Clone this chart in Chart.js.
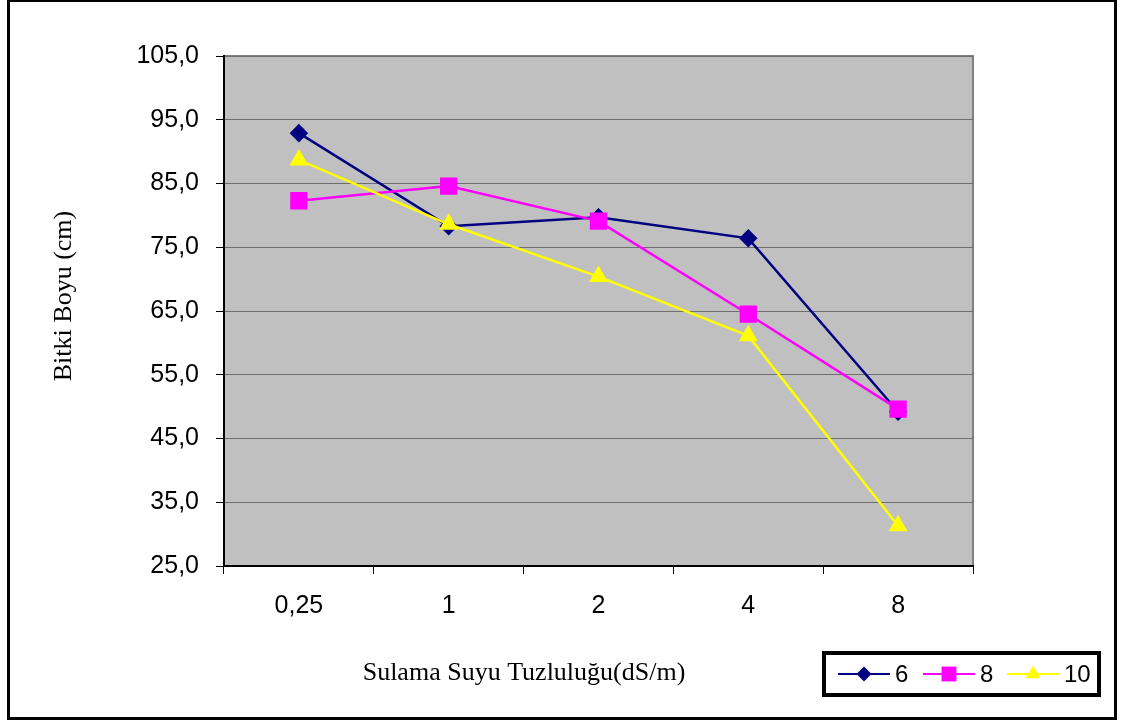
<!DOCTYPE html>
<html>
<head>
<meta charset="utf-8">
<script src="https://cdn.jsdelivr.net/npm/chart.js@4"></script>
<style>
  body { margin: 0; background: #fff; }
</style>
</head>
<body>
<canvas id="boyChart" width="1123" height="722"></canvas>
<script>
// salinity levels on the x axis
const salinity = ["0,25", "1", "2", "4", "8"];

// plant height (cm) per series
const series6 = [92.9, 78.3, 79.7, 76.4, 49.2];
const series8 = [82.3, 84.6, 79.1, 64.5, 49.6];
const series10 = [88.7, 78.6, 70.4, 61.1, 31.3];

const seriesNames = ["6", "8", "10"];

const yMin = 25;
const yMax = 105;
const yStep = 10;

const serif = "'Liberation Serif', 'Times New Roman', serif";
const sans = "'Liberation Sans', Arial, sans-serif";

// gray plot background, outer frame and the axis titles
const backdrop = {
  id: "backdrop",
  beforeDraw(chart) {
    const { ctx, chartArea: a } = chart;
    ctx.save();
    ctx.strokeStyle = "#000";
    ctx.lineWidth = 3;
    ctx.strokeRect(8.5, 0.5, 1107, 718);
    ctx.fillStyle = "#c0c0c0";
    ctx.fillRect(a.left, a.top, a.right - a.left, a.bottom - a.top);
    ctx.strokeStyle = "#808080";
    ctx.lineWidth = 2;
    ctx.strokeRect(a.left, a.top, a.right - a.left, a.bottom - a.top);
    ctx.restore();
  },
  afterDraw(chart) {
    const ctx = chart.ctx;
    ctx.save();
    ctx.fillStyle = "#000";
    ctx.font = "26px " + serif;
    ctx.textAlign = "center";
    ctx.textBaseline = "middle";
    ctx.fillText("Sulama Suyu Tuzluluğu(dS/m)", 524, 673);
    ctx.translate(64, 296);
    ctx.rotate(-Math.PI / 2);
    ctx.fillText("Bitki Boyu (cm)", 0, 0);
    ctx.restore();
  }
};

// boxed legend, line with marker then the label
const boxLegend = {
  id: "boxLegend",
  afterDraw(chart) {
    const ctx = chart.ctx;
    ctx.save();
    ctx.fillStyle = "#fff";
    ctx.fillRect(822, 651, 279, 46);
    ctx.strokeStyle = "#000";
    ctx.lineWidth = 4;
    ctx.strokeRect(824, 653, 275, 42);
    const starts = [838, 923, 1007];
    const y = 674;
    chart.data.datasets.forEach((ds, i) => {
      const x = starts[i];
      ctx.strokeStyle = ds.borderColor;
      ctx.lineWidth = 2;
      ctx.beginPath();
      ctx.moveTo(x, y);
      ctx.lineTo(x + 52, y);
      ctx.stroke();
      ctx.fillStyle = ds.pointBackgroundColor;
      Chart.helpers.drawPoint(ctx, {
        pointStyle: ds.pointStyle,
        radius: ds.pointRadius,
        rotation: 0,
        borderWidth: 0
      }, x + 26, y);
      ctx.fillStyle = "#000";
      ctx.font = "24px " + sans;
      ctx.textAlign = "left";
      ctx.textBaseline = "middle";
      ctx.fillText(ds.label, x + 57, y + 1);
    });
    ctx.restore();
  }
};

new Chart(document.getElementById("boyChart"), {
  type: "line",
  data: {
    labels: salinity,
    datasets: [
      {
        label: seriesNames[0],
        data: series6,
        order: 3,
        borderColor: "#000080",
        backgroundColor: "#000080",
        pointBackgroundColor: "#000080",
        pointBorderColor: "#000080",
        pointStyle: "rectRot",
        pointRadius: 7.5,
        borderWidth: 2.5
      },
      {
        label: seriesNames[1],
        data: series8,
        order: 2,
        borderColor: "#ff00ff",
        backgroundColor: "#ff00ff",
        pointBackgroundColor: "#ff00ff",
        pointBorderColor: "#ff00ff",
        pointStyle: "rect",
        pointRadius: 10.5,
        borderWidth: 2.5
      },
      {
        label: seriesNames[2],
        data: series10,
        order: 1,
        borderColor: "#ffff00",
        backgroundColor: "#ffff00",
        pointBackgroundColor: "#ffff00",
        pointBorderColor: "#ffff00",
        pointStyle: "triangle",
        pointRadius: 8.5,
        borderWidth: 2.5
      }
    ]
  },
  options: {
    responsive: false,
    animation: false,
    layout: { padding: { left: 30, top: 56, right: 150, bottom: 30 } },
    plugins: {
      legend: { display: false },
      tooltip: { enabled: false }
    },
    elements: { line: { tension: 0 }, point: { borderWidth: 0 } },
    scales: {
      x: {
        offset: true,
        afterFit(scale) { scale.height = 126; },
        grid: {
          offset: true,
          drawOnChartArea: false,
          tickLength: 8,
          tickColor: "#000"
        },
        border: { color: "#000", width: 2 },
        ticks: {
          color: "#000",
          padding: 17,
          font: { family: sans, size: 25 }
        }
      },
      y: {
        min: yMin,
        max: yMax,
        afterFit(scale) { scale.width = 194; },
        grid: {
          color: "#6e6e6e",
          lineWidth: 1,
          tickLength: 8,
          tickColor: "#000"
        },
        border: { color: "#000", width: 2 },
        ticks: {
          stepSize: yStep,
          color: "#000",
          padding: 17,
          font: { family: sans, size: 25 },
          callback: v => v.toFixed(1).replace(".", ",")
        }
      }
    }
  },
  plugins: [backdrop, boxLegend]
});
</script>
</body>
</html>
